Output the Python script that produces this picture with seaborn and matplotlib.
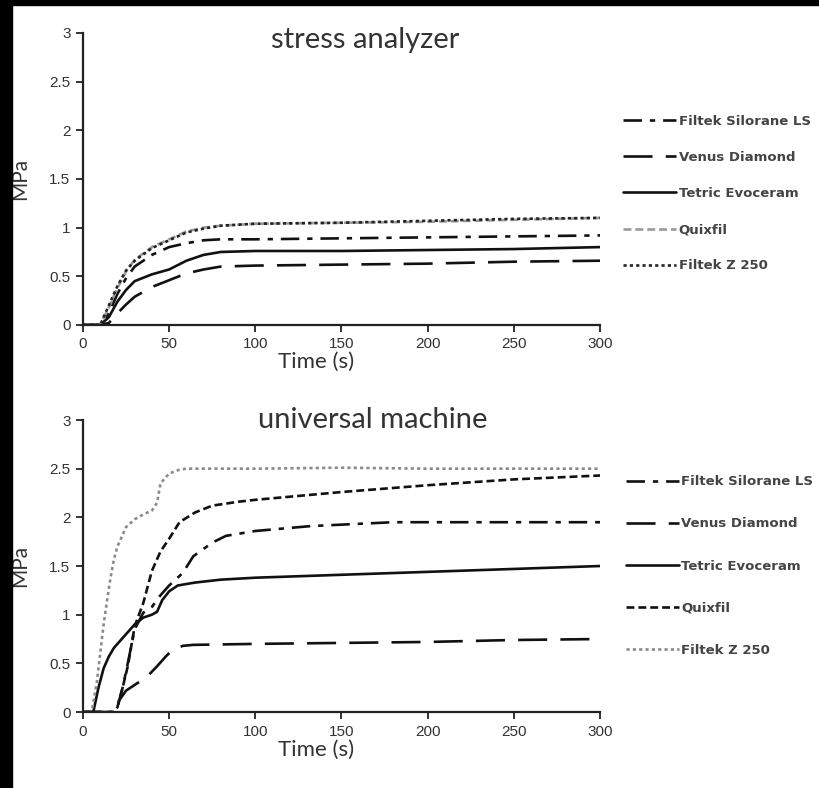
import numpy as np
import pandas as pd
import matplotlib
matplotlib.use("Agg")
import matplotlib.pyplot as plt
from matplotlib.patches import Rectangle
import seaborn as sns

sns.set_style("ticks")
plt.rcParams["font.family"] = ["Lato", "DejaVu Sans"]

labels = ["Filtek Silorane LS", "Venus Diamond", "Tetric Evoceram", "Quixfil", "Filtek Z 250"]

# --- stress analyzer (shared time grid) ---
t_top = [0, 10, 15, 20, 25, 30, 40, 50, 60, 70, 80, 100, 150, 200, 250, 300]
top_silorane = [0, 0, 0.12, 0.32, 0.48, 0.60, 0.72, 0.80, 0.84, 0.87, 0.88, 0.88, 0.89, 0.90, 0.91, 0.92]
top_venus = [0, 0, 0.02, 0.12, 0.21, 0.29, 0.39, 0.46, 0.53, 0.57, 0.60, 0.61, 0.62, 0.63, 0.65, 0.66]
top_tetric = [0, 0, 0.08, 0.24, 0.36, 0.45, 0.52, 0.57, 0.66, 0.72, 0.75, 0.76, 0.76, 0.77, 0.78, 0.80]
top_quixfil = [0, 0, 0.18, 0.38, 0.55, 0.67, 0.80, 0.88, 0.96, 1.00, 1.02, 1.04, 1.05, 1.06, 1.08, 1.10]
top_z250 = [0, 0, 0.20, 0.40, 0.56, 0.66, 0.79, 0.87, 0.95, 0.99, 1.02, 1.04, 1.05, 1.07, 1.09, 1.10]

# --- universal machine ---
t_um_silorane = [0, 18, 20, 23, 26, 30, 35, 40, 45, 50, 58, 64, 75, 83, 100, 132, 180, 250, 300]
um_silorane = [0, 0, 0.05, 0.25, 0.50, 0.85, 1.02, 1.08, 1.20, 1.30, 1.43, 1.60, 1.74, 1.81, 1.86, 1.91, 1.95, 1.95, 1.95]
t_um_venus = [0, 18, 21, 25, 31, 37, 43, 48, 52, 58, 64, 100, 150, 200, 250, 300]
um_venus = [0, 0, 0.12, 0.22, 0.29, 0.36, 0.47, 0.57, 0.64, 0.68, 0.69, 0.70, 0.71, 0.72, 0.74, 0.75]
t_um_tetric = [0, 6, 9, 12, 15, 18, 22, 26, 30, 35, 40, 43, 46, 50, 55, 65, 80, 100, 150, 200, 250, 300]
um_tetric = [0, 0, 0.25, 0.45, 0.57, 0.66, 0.74, 0.82, 0.90, 0.97, 1.00, 1.03, 1.15, 1.24, 1.30, 1.33, 1.36, 1.38, 1.41, 1.44, 1.47, 1.50]
t_um_quixfil = [0, 18, 20, 23, 26, 30, 35, 40, 45, 50, 56, 65, 75, 90, 100, 150, 200, 250, 300]
um_quixfil = [0, 0, 0.05, 0.25, 0.47, 0.88, 1.12, 1.45, 1.65, 1.78, 1.95, 2.05, 2.12, 2.16, 2.18, 2.26, 2.33, 2.39, 2.43]
t_um_z250 = [0, 5, 8, 10, 12, 14, 16, 18, 20, 25, 30, 35, 40, 43, 45, 50, 56, 60, 80, 100, 150, 200, 250, 300]
um_z250 = [0, 0, 0.30, 0.60, 0.90, 1.15, 1.38, 1.57, 1.70, 1.90, 1.98, 2.03, 2.07, 2.15, 2.35, 2.45, 2.49, 2.50, 2.50, 2.50, 2.51, 2.50, 2.50, 2.50]

x_ticks = [0, 50, 100, 150, 200, 250, 300]
y_ticks = [0, 0.5, 1, 1.5, 2, 2.5, 3]
y_ticklabels = ["0", "0.5", "1", "1.5", "2", "2.5", "3"]

styles_top = [
    dict(color="#111111", linestyle=(0, (7, 3, 2, 3))),
    dict(color="#111111", linestyle=(0, (11, 5))),
    dict(color="#111111", linestyle="-"),
    dict(color="#9a9a9a", linestyle=(0, (3, 1.5))),
    dict(color="#222222", linestyle=(0, (1.2, 1.2))),
]
styles_um = [
    dict(color="#111111", linestyle=(0, (7, 3, 2, 3))),
    dict(color="#111111", linestyle=(0, (11, 5))),
    dict(color="#111111", linestyle="-"),
    dict(color="#111111", linestyle=(0, (3, 1.5))),
    dict(color="#8a8a8a", linestyle=(0, (1.2, 1.2))),
]

fig = plt.figure(figsize=(8.19, 7.88), dpi=100)
fig.patch.set_facecolor("white")
ax_top = fig.add_axes([0.1013, 0.5876, 0.6313, 0.3706])
ax_um = fig.add_axes([0.1013, 0.0964, 0.6313, 0.3706])

top_series = [(t_top, top_silorane), (t_top, top_venus), (t_top, top_tetric),
              (t_top, top_quixfil), (t_top, top_z250)]
um_series = [(t_um_silorane, um_silorane), (t_um_venus, um_venus), (t_um_tetric, um_tetric),
             (t_um_quixfil, um_quixfil), (t_um_z250, um_z250)]

tick_font = dict(family=["Liberation Sans", "DejaVu Sans"], size=11)

panels = [
    # ax, series, styles, title, title (x, y), legend y, legend x, spacing
    (ax_top, top_series, styles_top, "stress analyzer", (0.545, 0.975), 0.45, 1.045, 1.75),
    (ax_um, um_series, styles_um, "universal machine", (0.56, 1.0), 0.50, 1.05, 2.2),
]

for ax, series, styles, title, tpos, leg_y, leg_x, spacing in panels:
    for (t, v), lab, st in zip(series, labels, styles):
        df = pd.DataFrame({"t": t, "v": v})
        sns.lineplot(data=df, x="t", y="v", ax=ax, label=lab, linewidth=1.9,
                     estimator=None, sort=False, **st)
    ax.set_xlim(0, 300)
    ax.set_ylim(0, 3)
    ax.set_xticks(x_ticks)
    ax.set_xticklabels([str(x) for x in x_ticks], fontdict=tick_font, color="#333333")
    ax.set_yticks(y_ticks)
    ax.set_yticklabels(y_ticklabels, fontdict=tick_font, color="#333333")
    ax.tick_params(axis="both", direction="out", length=5, width=1.3, color="#222222")
    ax.tick_params(axis="x", pad=4)
    ax.tick_params(axis="y", pad=4)
    sns.despine(ax=ax)
    for s in ("left", "bottom"):
        ax.spines[s].set_linewidth(1.6)
        ax.spines[s].set_color("#222222")
    ax.set_xlabel("Time (s)", fontsize=16, color="#333333", va="center")
    ax.xaxis.set_label_coords(0.45, -0.128)
    ax.set_ylabel("MPa", fontsize=15, color="#333333", va="center")
    ax.yaxis.set_label_coords(-0.122, 0.5)
    ax.text(tpos[0], tpos[1], title, transform=ax.transAxes, ha="center", va="center",
            fontsize=21, color="#333333")
    leg = ax.legend(loc="center left", bbox_to_anchor=(leg_x, leg_y), frameon=False,
                    handlelength=4.0, handletextpad=0.2, labelspacing=spacing,
                    borderpad=0, borderaxespad=0,
                    prop=dict(family=["DejaVu Sans"], size=9.5, weight="bold"))
    for txt in leg.get_texts():
        txt.set_color("#444444")

fig.add_artist(Rectangle((0, 0), 12 / 819, 1, transform=fig.transFigure, color="black", zorder=10))
fig.add_artist(Rectangle((0, 1 - 5 / 788), 1, 5 / 788, transform=fig.transFigure, color="black", zorder=10))

fig.savefig("out.png", dpi=100, facecolor="white")
